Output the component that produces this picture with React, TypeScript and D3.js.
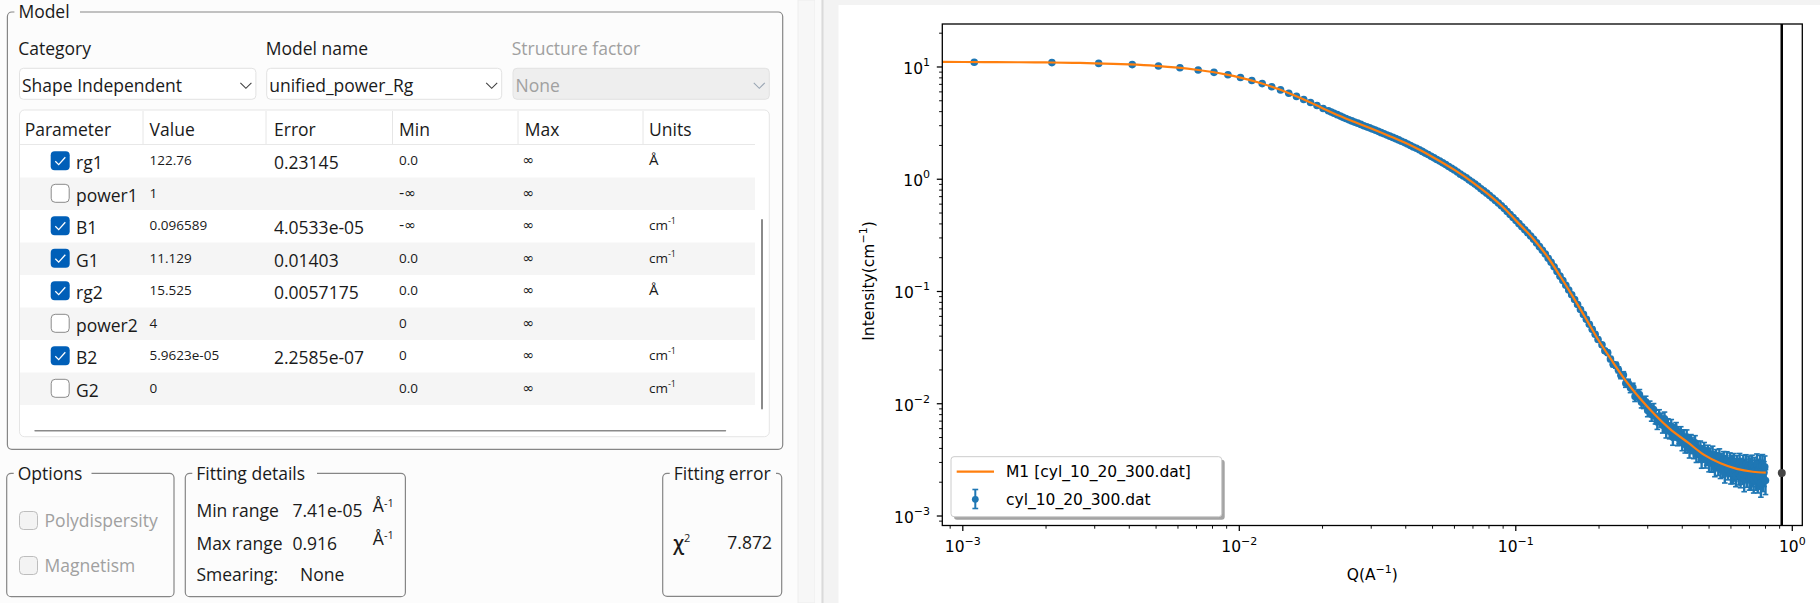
import * as d3 from "d3"
import { useEffect } from "react"

const W = 1820
const H = 603

const GUI_FONT = "'Open Sans', 'Noto Sans', sans-serif"
const PLOT_FONT = "'DejaVu Sans', sans-serif"
const TEXT = "#1a1a1a"
const DISABLED = "#a0a0a0"
const PANEL_BG = "#fcfcfc"
const BLUE = "#1f77b4"
const ORANGE = "#ff7f0e"

// fitted model M1
const FIT_Q = [
  0.00084, 0.0012, 0.0016, 0.002, 0.0025, 0.003, 0.0035, 0.004, 0.005, 0.006,
  0.007, 0.008, 0.009, 0.01, 0.012, 0.014, 0.016, 0.018, 0.02, 0.023, 0.026,
  0.03, 0.035, 0.04, 0.045, 0.05, 0.06, 0.07, 0.08, 0.09, 0.1, 0.115, 0.13,
  0.145, 0.16, 0.18, 0.2, 0.225, 0.25, 0.28, 0.32, 0.36, 0.42, 0.48, 0.55,
  0.63, 0.72, 0.802,
]
const FIT_I = [
  11.1, 11.06, 11.02, 10.97, 10.89, 10.79, 10.67, 10.54, 10.23, 9.86, 9.45,
  9.02, 8.56, 8.09, 7.16, 6.29, 5.51, 4.86, 4.3, 3.68, 3.25, 2.83, 2.42, 2.1,
  1.82, 1.58, 1.21, 0.935, 0.725, 0.563, 0.43, 0.3, 0.205, 0.136, 0.092,
  0.0565, 0.0362, 0.0233, 0.016, 0.0113, 0.0079, 0.006, 0.0045, 0.0035,
  0.00295, 0.00263, 0.00248, 0.00243,
]

// cyl_10_20_300.dat, low q (separate points)
const LOW_Q = [
  0.0011, 0.0021, 0.0031, 0.0041, 0.0051, 0.0061, 0.0071, 0.0081, 0.0091, 0.0101,
  0.0111, 0.0121, 0.0131, 0.0141, 0.0151, 0.0161, 0.0171, 0.0181, 0.0191, 0.0201,
]
const LOW_I = [
  11.02, 10.94, 10.76, 10.5, 10.19, 9.83, 9.4, 8.96, 8.52, 8.05,
  7.59, 7.11, 6.67, 6.25, 5.84, 5.47, 5.13, 4.83, 4.54, 4.27,
]
const LOW_ERR_PCT = [
  0.3, 0.3, 0.3, 0.3, 0.3, 0.3, 0.3, 0.3, 0.3, 0.3,
  0.4, 0.4, 0.4, 0.4, 0.4, 0.4, 0.4, 0.4, 0.4, 0.4,
]

// mid q (dense band)
const MID_Q = [
  0.021, 0.0215, 0.022, 0.0226, 0.0232, 0.0237, 0.0243, 0.0249, 0.0255, 0.0261,
  0.0268, 0.0275, 0.0282, 0.0289, 0.0296, 0.0303, 0.031, 0.0318, 0.0326, 0.0334,
  0.0342, 0.035, 0.0359, 0.0368, 0.0377, 0.0386, 0.0396, 0.0406, 0.0416, 0.0426,
  0.0437, 0.0448, 0.0459, 0.047, 0.0482, 0.0494, 0.0506, 0.0518, 0.0531, 0.0544,
  0.0558, 0.0572, 0.0586, 0.06, 0.0615, 0.063, 0.0646, 0.0662, 0.0678, 0.0695,
  0.0712, 0.073, 0.0748, 0.0766, 0.0785, 0.0804, 0.0824, 0.0844, 0.0865, 0.0887,
  0.0909, 0.0931, 0.0954, 0.0978, 0.1002, 0.1027, 0.1052, 0.1078, 0.1104, 0.1132,
  0.116, 0.1189, 0.1218, 0.1248, 0.1279, 0.131, 0.1342, 0.1376, 0.141, 0.1445,
  0.148, 0.1517, 0.1554, 0.1593, 0.1632, 0.1673, 0.1714, 0.1757, 0.18, 0.1845,
  0.189, 0.1937, 0.1984,
]
const MID_I = [
  4.07, 3.97, 3.87, 3.76, 3.65, 3.56, 3.48, 3.39, 3.31, 3.23,
  3.16, 3.08, 3.0, 2.93, 2.87, 2.8, 2.74, 2.67, 2.6, 2.54,
  2.48, 2.42, 2.36, 2.3, 2.24, 2.18, 2.12, 2.06, 2.0, 1.94,
  1.89, 1.83, 1.77, 1.71, 1.66, 1.6, 1.55, 1.5, 1.45, 1.4,
  1.35, 1.3, 1.25, 1.21, 1.16, 1.11, 1.07, 1.03, 0.986, 0.945,
  0.905, 0.864, 0.824, 0.787, 0.752, 0.715, 0.68, 0.646, 0.613, 0.58,
  0.549, 0.516, 0.485, 0.456, 0.428, 0.402, 0.377, 0.354, 0.333, 0.312,
  0.292, 0.271, 0.251, 0.233, 0.216, 0.198, 0.182, 0.166, 0.151, 0.137,
  0.125, 0.1135, 0.103, 0.0935, 0.0848, 0.0766, 0.0692, 0.0625, 0.0565, 0.051,
  0.046, 0.0415, 0.0374,
]
const MID_ERR_PCT = [
  0.5, 0.5, 0.5, 0.5, 0.5, 0.5, 0.5, 0.5, 0.5, 0.5,
  0.5, 0.5, 0.5, 0.5, 0.5, 0.5, 0.5, 0.5, 0.5, 0.5,
  0.6, 0.6, 0.6, 0.6, 0.6, 0.6, 0.6, 0.6, 0.6, 0.6,
  0.8, 0.8, 0.8, 0.8, 0.8, 0.8, 0.8, 0.8, 0.8, 0.8,
  1, 1, 1, 1, 1, 1, 1, 1, 1, 1,
  1.2, 1.2, 1.2, 1.2, 1.2, 1.2, 1.2, 1.2, 1.2, 1.2,
  1.5, 1.5, 1.6, 1.6, 1.7, 1.7, 1.8, 1.8, 1.9, 1.9,
  2, 2.1, 2.2, 2.3, 2.4, 2.5, 2.6, 2.7, 2.8, 2.9,
  3, 3.1, 3.2, 3.3, 3.4, 3.5, 3.6, 3.7, 3.8, 3.9,
  4, 4, 4,
]

// high q (noisy tail)
const HIGH_Q = [
  0.205, 0.21, 0.215, 0.22, 0.225, 0.23, 0.235, 0.24, 0.245, 0.25,
  0.255, 0.26, 0.265, 0.27, 0.275, 0.28, 0.285, 0.29, 0.295, 0.3,
  0.305, 0.31, 0.315, 0.32, 0.325, 0.33, 0.335, 0.34, 0.345, 0.35,
  0.355, 0.36, 0.365, 0.37, 0.375, 0.38, 0.385, 0.39, 0.395, 0.4,
  0.405, 0.41, 0.415, 0.42, 0.425, 0.43, 0.435, 0.44, 0.445, 0.45,
  0.455, 0.46, 0.465, 0.47, 0.475, 0.48, 0.485, 0.49, 0.495, 0.5,
  0.505, 0.51, 0.515, 0.52, 0.525, 0.53, 0.535, 0.54, 0.545, 0.55,
  0.555, 0.56, 0.565, 0.57, 0.575, 0.58, 0.585, 0.59, 0.595, 0.6,
  0.605, 0.61, 0.615, 0.62, 0.625, 0.63, 0.635, 0.64, 0.645, 0.65,
  0.655, 0.66, 0.665, 0.67, 0.675, 0.68, 0.685, 0.69, 0.695, 0.7,
  0.705, 0.71, 0.715, 0.72, 0.725, 0.73, 0.735, 0.74, 0.745, 0.75,
  0.755, 0.76, 0.765, 0.77, 0.775, 0.78, 0.785, 0.79, 0.795, 0.8,
]
const HIGH_I = [
  0.03346, 0.0296, 0.02847, 0.02505, 0.02248, 0.02207, 0.02009, 0.01798, 0.01804, 0.01523,
  0.0153, 0.0138, 0.01399, 0.01163, 0.01207, 0.01205, 0.01031, 0.01029, 0.01042, 0.00871,
  0.00934, 0.00804, 0.00888, 0.00768, 0.00687, 0.00776, 0.0072, 0.00645, 0.00733, 0.00583,
  0.00639, 0.00573, 0.00629, 0.00502, 0.00564, 0.00591, 0.00497, 0.00517, 0.00543, 0.00449,
  0.00505, 0.00433, 0.00504, 0.00436, 0.00391, 0.00458, 0.00428, 0.00386, 0.00448, 0.00357,
  0.00399, 0.00361, 0.00401, 0.00317, 0.00363, 0.00386, 0.00322, 0.00341, 0.00365, 0.00298,
  0.00345, 0.00296, 0.00355, 0.00305, 0.00273, 0.00331, 0.0031, 0.0028, 0.00336, 0.00263,
  0.00303, 0.00273, 0.00315, 0.00243, 0.00289, 0.00314, 0.00259, 0.00278, 0.00304, 0.00241,
  0.00288, 0.00243, 0.003, 0.00256, 0.00228, 0.00285, 0.00268, 0.00239, 0.00298, 0.00226,
  0.00269, 0.00242, 0.00285, 0.00211, 0.00261, 0.00288, 0.00231, 0.00253, 0.0028, 0.00218,
  0.00267, 0.00221, 0.00283, 0.00237, 0.00208, 0.0027, 0.00253, 0.00223, 0.00288, 0.00211,
  0.00258, 0.00228, 0.00277, 0.00196, 0.00251, 0.00282, 0.0022, 0.00244, 0.00274, 0.00207,
]
const HIGH_ERR_PCT = [
  4, 4, 5, 5, 5, 6, 6, 7, 7, 8,
  8, 9, 9, 10, 10, 11, 11, 12, 12, 12,
  13, 13, 13, 14, 14, 14, 14, 15, 15, 15,
  15, 15, 15, 15, 15, 15, 15, 15, 15, 15,
  16, 16, 16, 16, 16, 16, 16, 16, 16, 16,
  16, 16, 16, 16, 16, 17, 17, 17, 17, 17,
  17, 17, 18, 18, 18, 18, 18, 18, 18, 18,
  19, 19, 19, 19, 19, 19, 19, 19, 20, 20,
  20, 20, 20, 20, 20, 21, 21, 21, 21, 21,
  21, 21, 22, 22, 22, 22, 22, 22, 22, 22,
  23, 23, 23, 23, 23, 23, 24, 24, 24, 24,
  24, 24, 25, 25, 25, 25, 25, 25, 25, 25,
]

const MAX_RANGE_Q = 0.916
const MAX_RANGE_I = 0.00241

const X_TICK_EXP = [-3, -2, -1, 0]
const Y_TICK_EXP = [-3, -2, -1, 0, 1]

const LEGEND_FIT = "M1 [cyl_10_20_300.dat]"
const LEGEND_DATA = "cyl_10_20_300.dat"

// model parameter table
const TABLE_HEADERS = ["Parameter", "Value", "Error", "Min", "Max", "Units"]
const PARAM_NAMES = ["rg1", "power1", "B1", "G1", "rg2", "power2", "B2", "G2"]
const PARAM_CHECKED = [true, false, true, true, true, false, true, false]
const PARAM_VALUES = ["122.76", "1", "0.096589", "11.129", "15.525", "4", "5.9623e-05", "0"]
const PARAM_ERRORS = ["0.23145", "", "4.0533e-05", "0.01403", "0.0057175", "", "2.2585e-07", ""]
const PARAM_MIN = ["0.0", "-∞", "-∞", "0.0", "0.0", "0", "0", "0.0"]
const PARAM_MAX = ["∞", "∞", "∞", "∞", "∞", "∞", "∞", "∞"]
const PARAM_UNITS = ["Å", "", "cm", "cm", "Å", "", "cm", "cm"]

const PLOT = { left: 942.3, right: 1802.3, top: 24, bottom: 525.5 }

function GroupBox({ x, y, w, h, title, gapEnd }: { x: number; y: number; w: number; h: number; title: string; gapEnd: number }) {
  const titleX = x + 11
  return (
    <g>
      <rect x={x} y={y} width={w} height={h} rx={4.5} fill="none" stroke="#868686" strokeWidth={1.2} />
      <rect x={titleX - 4} y={y - 3} width={gapEnd - titleX + 4} height={6} fill={PANEL_BG} />
      <text x={titleX} y={y + 6.3} fontSize={17.5} fill={TEXT}>{title}</text>
    </g>
  )
}

function Combo({ x, y, w, text, disabled }: { x: number; y: number; w: number; text: string; disabled?: boolean }) {
  const cx = x + w - 10
  const cy = y + 17.5
  return (
    <g>
      <rect x={x} y={y} width={w} height={31} rx={4} fill={disabled ? "#eeeeee" : "#ffffff"} stroke="#e2e2e2" />
      <text x={x + 2.5} y={y + 23.6} fontSize={17.5} fill={disabled ? DISABLED : TEXT}>{text}</text>
      <path d={`M${cx - 5.5},${cy - 3} L${cx},${cy + 2.5} L${cx + 5.5},${cy - 3}`} fill="none"
        stroke={disabled ? "#9aa6b4" : "#404040"} strokeWidth={1.1} />
    </g>
  )
}

function CheckBox({ x, y, checked, disabled }: { x: number; y: number; checked?: boolean; disabled?: boolean }) {
  const s = 19
  if (checked) {
    return (
      <g>
        <rect x={x} y={y} width={s} height={s} rx={4} fill="#005fb8" />
        <path d={`M${x + 4.6},${y + 10} L${x + 8},${y + 13.3} L${x + 14.6},${y + 6}`} fill="none" stroke="#ffffff" strokeWidth={1.3} />
      </g>
    )
  }
  return (
    <rect x={x + 0.5} y={y + 0.5} width={s - 1} height={s - 1} rx={4}
      fill={disabled ? "#f3f3f3" : "#ffffff"} stroke={disabled ? "#bdbdbd" : "#8a8a8a"} />
  )
}

// ∞ is drawn with DejaVu, whose glyph is closer to the reference one
function SmallValue({ x, y, text }: { x: number; y: number; text: string }) {
  const inf = text.includes("∞")
  return (
    <text x={x} y={y} fontSize={inf ? 14.5 : 13.5} fontFamily={inf ? PLOT_FONT : undefined} fill={TEXT}>
      {text}
    </text>
  )
}

function ModelPanel() {
  const rowTop = 145
  const rowH = 32.5
  const headerX = [24.7, 149.6, 274, 399, 524.7, 649]
  const sepX = [143, 266, 392.5, 518, 643]
  return (
    <g fontFamily={GUI_FONT}>
      <GroupBox x={7.4} y={12} w={775.3} h={437.3} title="Model" gapEnd={80} />
      <text x={18.2} y={54.5} fontSize={17.5} fill={TEXT}>Category</text>
      <text x={265.8} y={54.5} fontSize={17.5} fill={TEXT}>Model name</text>
      <text x={511.7} y={54.5} fontSize={17.5} fill={DISABLED}>Structure factor</text>
      <Combo x={19.5} y={68.3} w={236.4} text="Shape Independent" />
      <Combo x={266.7} y={68.3} w={235} text="unified_power_Rg" />
      <Combo x={513} y={68.3} w={256.3} text="None" disabled />

      <rect x={19.5} y={110} width={749.8} height={326.7} rx={5} fill="#ffffff" stroke="#e5e5e5" />
      {sepX.map((sx) => (
        <line key={sx} x1={sx} x2={sx} y1={111} y2={144} stroke="#e6e6e6" />
      ))}
      <line x1={20} x2={755} y1={144.5} y2={144.5} stroke="#e8e8e8" />
      {TABLE_HEADERS.map((h, i) => (
        <text key={h} x={headerX[i]} y={136} fontSize={17.5} fill={TEXT}>{h}</text>
      ))}
      {PARAM_NAMES.map((name, i) => {
        const top = rowTop + i * rowH
        const unit = PARAM_UNITS[i]
        return (
          <g key={name}>
            {i % 2 === 1 ? <rect x={20} y={top} width={735} height={rowH} fill="#f5f5f5" /> : null}
            <CheckBox x={50.7} y={top + 6.3} checked={PARAM_CHECKED[i]} />
            <text x={76} y={top + 24} fontSize={17.5} fill={TEXT}>{name}</text>
            <SmallValue x={149.6} y={top + 20} text={PARAM_VALUES[i]} />
            <text x={274} y={top + 24} fontSize={17.5} fill={TEXT}>{PARAM_ERRORS[i]}</text>
            <SmallValue x={399} y={top + 20} text={PARAM_MIN[i]} />
            <SmallValue x={522.5} y={top + 20} text={PARAM_MAX[i]} />
            {unit === "cm" ? (
              <text x={649} y={top + 20} fontSize={13.5} fill={TEXT}>
                cm<tspan dy={-6} fontSize={9}>-1</tspan>
              </text>
            ) : unit ? (
              <text x={649} y={top + 20} fontSize={15} fill={TEXT}>{unit}</text>
            ) : null}
          </g>
        )
      })}
      <line x1={762} x2={762} y1={220} y2={408.6} stroke="#8a8a8a" strokeWidth={2} strokeLinecap="round" />
      <line x1={35} x2={725.5} y1={430.7} y2={430.7} stroke="#8a8a8a" strokeWidth={1.4} strokeLinecap="round" />

      <GroupBox x={6.7} y={473.3} w={167.3} h={123.4} title="Options" gapEnd={91.5} />
      <CheckBox x={19} y={511} disabled />
      <text x={44.6} y={526.5} fontSize={17.5} fill={DISABLED}>Polydispersity</text>
      <CheckBox x={19} y={556} disabled />
      <text x={44.6} y={571.5} fontSize={17.5} fill={DISABLED}>Magnetism</text>

      <GroupBox x={185.3} y={473.3} w={220.1} h={123.4} title="Fitting details" gapEnd={317} />
      <text x={196.4} y={517} fontSize={17.5} fill={TEXT}>Min range</text>
      <text x={292.4} y={517} fontSize={17.5} fill={TEXT}>7.41e-05</text>
      <text x={372.8} y={512} fontSize={17.5} fill={TEXT}>
        Å<tspan dy={-5.5} fontSize={11}>-1</tspan>
      </text>
      <text x={196.4} y={549.5} fontSize={17.5} fill={TEXT}>Max range</text>
      <text x={292.4} y={549.5} fontSize={17.5} fill={TEXT}>0.916</text>
      <text x={372.8} y={544.5} fontSize={17.5} fill={TEXT}>
        Å<tspan dy={-5.5} fontSize={11}>-1</tspan>
      </text>
      <text x={196.4} y={581} fontSize={17.5} fill={TEXT}>Smearing:</text>
      <text x={300} y={581} fontSize={17.5} fill={TEXT}>None</text>

      <GroupBox x={662.7} y={473.3} w={119} h={123} title="Fitting error" gapEnd={776} />
      <text x={673.3} y={550} fontSize={19} fontWeight={600} fill={TEXT}>
        χ<tspan dy={-8} fontSize={11} fontWeight={400}>2</tspan>
      </text>
      <text x={727.3} y={549.3} fontSize={17.5} fill={TEXT}>7.872</text>
    </g>
  )
}

function supText(e: number) {
  return e < 0 ? `\u2212${-e}` : String(e)
}

type Point = { q: number; v: number; err: number }

function toPoints(qs: number[], vs: number[], pct: number[]): Point[] {
  return qs.map((q, i) => ({ q, v: vs[i], err: (vs[i] * pct[i]) / 100 }))
}

function Plot() {
  const x = d3.scaleLog().domain([8.43e-4, 1.087]).range([PLOT.left, PLOT.right])
  const y = d3.scaleLog().domain([8.23e-4, 24.15]).range([PLOT.bottom, PLOT.top])
  const [x0, x1] = x.domain()
  const [y0, y1] = y.domain()

  const minor = (lo: number, hi: number) => {
    const out: number[] = []
    for (let e = -4; e <= 1; e++) {
      for (let k = 2; k <= 9; k++) {
        const v = k * 10 ** e
        if (v >= lo && v <= hi) out.push(v)
      }
    }
    return out
  }
  const xMinor = minor(x0, x1)
  const yMinor = minor(y0, y1)

  const points = [
    ...toPoints(LOW_Q, LOW_I, LOW_ERR_PCT),
    ...toPoints(MID_Q, MID_I, MID_ERR_PCT),
    ...toPoints(HIGH_Q, HIGH_I, HIGH_ERR_PCT),
  ]

  const fitPath =
    d3
      .line<number>()
      .x((q) => x(q))
      .y((_, i) => y(FIT_I[i]))
      .curve(d3.curveMonotoneX)(FIT_Q) ?? ""

  const legX = 951
  const legY = 456.7
  const legW = 270.7
  const legH = 60

  return (
    <g fontFamily={PLOT_FONT}>
      <defs>
        <clipPath id="plot-clip">
          <rect x={PLOT.left} y={PLOT.top} width={PLOT.right - PLOT.left} height={PLOT.bottom - PLOT.top} />
        </clipPath>
      </defs>

      <g clipPath="url(#plot-clip)">
        {points.map((p) => {
          const px = x(p.q)
          const yt = y(p.v + p.err)
          const yb = y(p.v - p.err)
          return (
            <g key={p.q} stroke={BLUE} strokeWidth={2.4}>
              <line x1={px} x2={px} y1={yt} y2={yb} />
              <line x1={px - 2.8} x2={px + 2.8} y1={yt} y2={yt} strokeWidth={1.6} />
              <line x1={px - 2.8} x2={px + 2.8} y1={yb} y2={yb} strokeWidth={1.6} />
            </g>
          )
        })}
        {points.map((p) => (
          <circle key={p.q} cx={x(p.q)} cy={y(p.v)} r={3.8} fill={BLUE} />
        ))}
        <path d={fitPath} fill="none" stroke={ORANGE} strokeWidth={2.2} />
        <line x1={x(MAX_RANGE_Q)} x2={x(MAX_RANGE_Q)} y1={PLOT.top} y2={PLOT.bottom} stroke="#000000" strokeWidth={2.5} />
        <circle cx={x(MAX_RANGE_Q)} cy={y(MAX_RANGE_I)} r={4} fill="#444444" />
      </g>

      <rect x={PLOT.left} y={PLOT.top} width={PLOT.right - PLOT.left} height={PLOT.bottom - PLOT.top}
        fill="none" stroke="#000000" strokeWidth={1.3} />

      {X_TICK_EXP.map((e) => (
        <g key={e}>
          <line x1={x(10 ** e)} x2={x(10 ** e)} y1={PLOT.bottom} y2={PLOT.bottom + 5.5} stroke="#000" strokeWidth={1.25} />
          <text x={x(10 ** e)} y={551.5} textAnchor="middle" fontSize={15.5} fill="#000">
            10<tspan dy={-7} fontSize={11}>{supText(e)}</tspan>
          </text>
        </g>
      ))}
      {xMinor.map((v) => (
        <line key={v} x1={x(v)} x2={x(v)} y1={PLOT.bottom} y2={PLOT.bottom + 3.2} stroke="#000" strokeWidth={0.95} />
      ))}
      {Y_TICK_EXP.map((e) => (
        <g key={e}>
          <line x1={PLOT.left - 5.5} x2={PLOT.left} y1={y(10 ** e)} y2={y(10 ** e)} stroke="#000" strokeWidth={1.25} />
          <text x={930} y={y(10 ** e) + 7} textAnchor="end" fontSize={15.5} fill="#000">
            10<tspan dy={-8} fontSize={11}>{supText(e)}</tspan>
          </text>
        </g>
      ))}
      {yMinor.map((v) => (
        <line key={v} x1={PLOT.left - 3.2} x2={PLOT.left} y1={y(v)} y2={y(v)} stroke="#000" strokeWidth={0.95} />
      ))}

      <text transform="translate(873.5, 281) rotate(-90)" textAnchor="middle" fontSize={15.5} fill="#000">
        Intensity(cm<tspan dy={-7} fontSize={11}>{"\u22121"}</tspan>
        <tspan dy={7}>)</tspan>
      </text>
      <text x={(PLOT.left + PLOT.right) / 2} y={580} textAnchor="middle" fontSize={15.5} fill="#000">
        Q(A<tspan dy={-7} fontSize={11}>{"\u22121"}</tspan>
        <tspan dy={7}>)</tspan>
      </text>

      <rect x={legX + 3} y={legY + 3} width={legW} height={legH} rx={3} fill="#a3a3a3" />
      <rect x={legX} y={legY} width={legW} height={legH} rx={3} fill="#ffffff" stroke="#cccccc" />
      <line x1={956.7} x2={994} y1={471.7} y2={471.7} stroke={ORANGE} strokeWidth={2.2} />
      <text x={1006} y={477.3} fontSize={15.5} fill="#000">{LEGEND_FIT}</text>
      <g stroke={BLUE} strokeWidth={2}>
        <line x1={975.3} x2={975.3} y1={489.5} y2={508.5} />
        <line x1={972.4} x2={978.2} y1={489.5} y2={489.5} strokeWidth={1.6} />
        <line x1={972.4} x2={978.2} y1={508.5} y2={508.5} strokeWidth={1.6} />
      </g>
      <circle cx={975.3} cy={499.3} r={3.4} fill={BLUE} />
      <text x={1006} y={505} fontSize={15.5} fill="#000">{LEGEND_DATA}</text>
    </g>
  )
}

export default function App() {
  useEffect(() => {
    document.body.style.margin = "0"
  }, [])

  return (
    <svg width={W} height={H} viewBox={`0 0 ${W} ${H}`}
      style={{ display: "block", position: "absolute", left: 0, top: 0 }}>
      <rect width={W} height={H} fill="#f3f3f3" />
      <rect x={0} y={0} width={798} height={H} fill={PANEL_BG} />
      <rect x={798} y={0} width={17} height={H} fill="#f7f7f7" stroke="#ececec" strokeWidth={0.8} />
      <rect x={815} y={0} width={6.5} height={H} fill="#fafafa" />
      <rect x={821.5} y={0} width={2} height={H} fill="#dadada" />
      <rect x={838.5} y={5} width={W - 838.5} height={H - 5} fill="#ffffff" />
      <ModelPanel />
      <Plot />
    </svg>
  )
}
